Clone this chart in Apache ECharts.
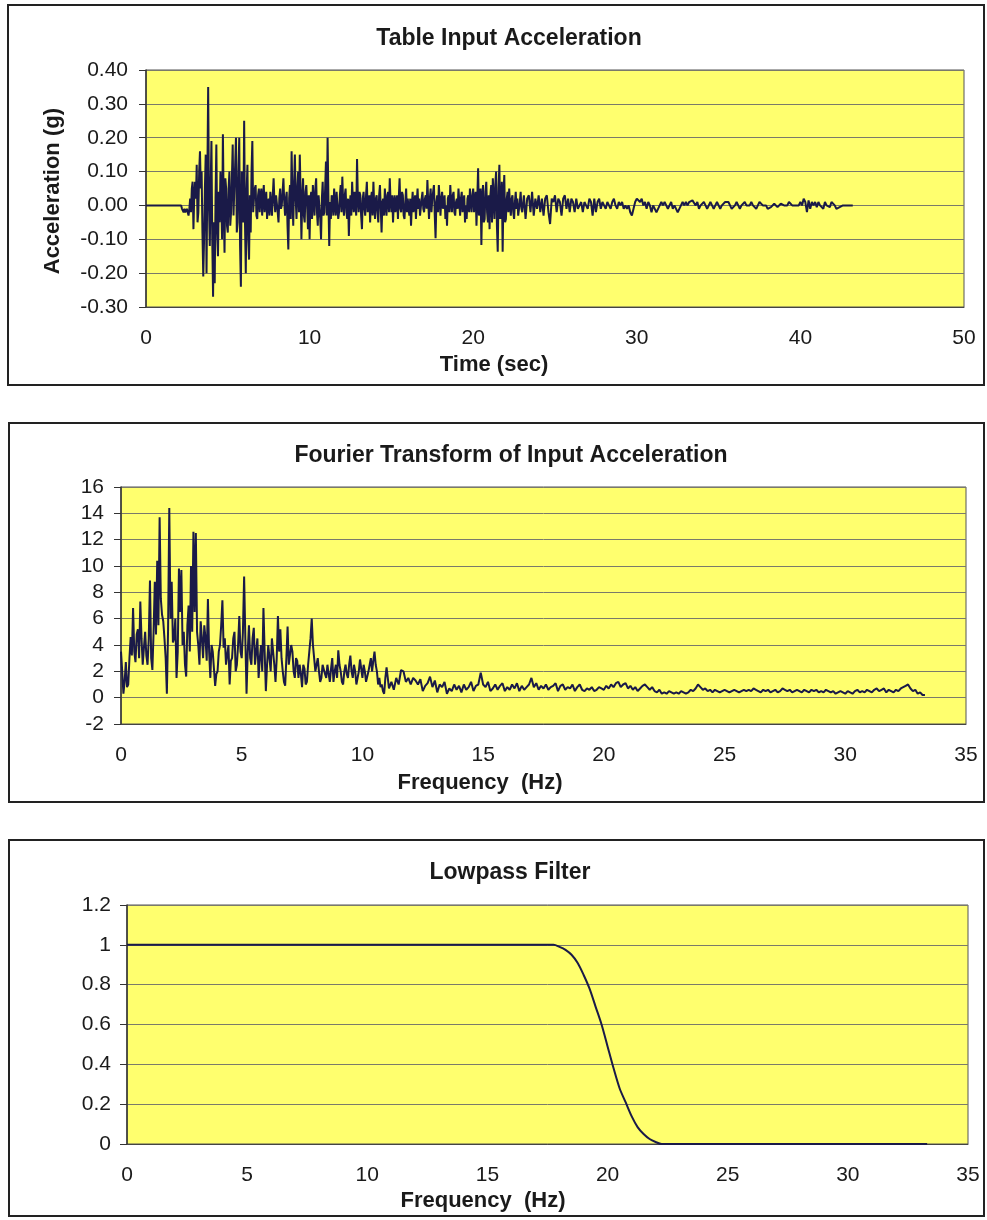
<!DOCTYPE html>
<html>
<head>
<meta charset="utf-8">
<script src="https://cdn.jsdelivr.net/npm/echarts@6/dist/echarts.min.js"></script>
<style>
html,body{margin:0;padding:0;background:#fff;}
#chart{width:987px;height:1220px;}
</style>
</head>
<body>
<div id="chart"></div>
<script>
// ---------- Data ----------
const accelTitle = 'Table Input Acceleration';
// flat lead-in: (t, value)
const accelLeadTime = [0];
const accelLeadValues = [0];
// strong-motion part: samples every 0.05 s from 2.0 s
const accelDenseStart = 2.0;
const accelDenseStep = 0.05;
const accelDense = [
  0,0,0,0,-0.01,-0.015,-0.02,-0.01,-0.02,-0.015,-0.01,-0.02,-0.03,-0.01,0.02,-0.02,0.05,0.07,-0.07,0.03,
  0.07,0.02,0.12,-0.05,-0.02,0.10,0.16,0.05,0.10,-0.08,-0.21,-0.10,0.05,0.15,-0.20,0.08,0.35,0.00,-0.12,0.05,
  0.19,-0.10,-0.27,-0.05,-0.23,0.02,0.18,-0.08,-0.15,0.04,-0.05,0.10,0.02,-0.10,0.21,0.00,-0.14,0.08,0.05,-0.06,
  -0.08,0.05,0.10,-0.06,-0.02,0.08,0.18,-0.03,0.05,0.12,0.20,-0.08,-0.05,0.10,0.20,-0.12,-0.24,0.10,0.06,-0.05,
  0.25,-0.05,-0.20,0.04,0.12,-0.10,-0.16,0.03,-0.08,0.10,0.19,-0.02,0.02,0.05,0.06,-0.03,-0.04,0.03,0.05,-0.02,
  0.03,0.05,-0.03,0.02,0.06,-0.02,0.01,0.04,-0.04,0.01,0.02,-0.03,0.04,0.01,-0.03,0.03,0.08,0.01,-0.02,0.03,
  0.03,-0.02,-0.05,0.02,0.05,-0.01,0.00,0.04,0.08,0.01,-0.03,0.02,0.04,-0.06,-0.13,0.02,0.06,-0.04,0.16,0.03,
  -0.06,0.06,0.15,0.02,-0.04,0.05,0.10,-0.02,0.15,0.04,-0.10,0.02,0.08,-0.03,-0.05,0.04,0.06,0.00,-0.07,0.03,
  -0.10,0.02,0.04,-0.04,0.06,0.01,-0.03,0.05,0.08,-0.02,-0.06,0.03,0.03,-0.04,-0.10,0.02,0.07,-0.03,-0.02,0.05,
  0.13,-0.03,0.20,0.02,-0.12,0.01,-0.04,0.03,0.02,-0.03,0.05,0.00,-0.03,0.04,0.04,-0.04,-0.02,0.03,0.06,-0.02,
  0.085,0.01,-0.03,0.03,0.05,-0.02,-0.04,0.02,-0.09,0.00,0.03,-0.03,0.07,0.01,-0.02,0.04,0.04,-0.03,0.137,0.02,
  -0.02,0.04,0.03,-0.03,-0.07,0.02,0.04,-0.01,-0.03,0.03,0.07,-0.02,0.00,0.03,-0.05,0.02,0.04,-0.03,0.07,0.00,
  -0.04,0.02,0.03,-0.02,-0.05,0.03,0.06,-0.01,-0.08,0.01,0.02,-0.03,0.05,0.00,-0.03,0.03,0.04,-0.02,0.08,0.01,
  -0.02,0.03,-0.05,0.01,0.03,-0.02,0.01,0.03,-0.04,0.02,0.08,-0.01,-0.02,0.04,0.03,-0.03,-0.04,0.01,0.05,-0.02,
  0.02,-0.01,-0.03,0.02,-0.06,0.00,0.04,-0.02,0.01,0.03,-0.04,0.01,0.05,-0.01,0.02,-0.03,-0.03,0.02,0.04,-0.01,
  -0.02,0.02,0.03,-0.01,0.075,0.01,-0.04,0.02,0.05,-0.02,0.02,0.04,0.06,-0.03,-0.097,0.01,0.03,-0.02,0.06,0.02,
  -0.03,0.02,0.04,-0.01,0.01,0.03,-0.04,0.00,-0.06,0.02,0.03,-0.02,0.06,0.01,-0.02,0.03,0.04,-0.02,-0.03,0.01,
  0.02,-0.01,0.05,0.01,-0.03,0.02,0.04,-0.02,0.01,0.03,-0.05,0.00,-0.04,0.02,0.03,-0.02,0.05,0.01,-0.02,0.03,
  0.05,-0.02,0.02,0.04,-0.06,0.02,0.11,-0.03,0.03,0.05,-0.117,0.02,0.06,-0.05,-0.04,0.04,0.07,-0.02,-0.05,0.03,
  -0.07,0.03,0.06,-0.05,0.08,0.02,-0.04,0.06,0.10,-0.06,-0.137,0.05,0.12,-0.04,-0.02,0.07,-0.137,0.03,0.09,-0.05,
  -0.04,0.02,0.04,-0.02,0.05,0.00,-0.03,0.02,0.03,-0.02,-0.04,0.01,0.04,-0.01,0.02,-0.03,-0.03,0.01,0.04,-0.01
];
// decaying tail: samples every 0.1 s from 23.0 s
const accelTailStart = 23.0;
const accelTailStep = 0.1;
const accelTail = [
  -0.02,0.03,-0.04,0.02,0.03,-0.02,0.04,-0.03,0.02,-0.01,
  0.03,-0.02,0.02,-0.03,0.02,0.03,-0.02,-0.055,0.02,0.01,
  0.03,-0.02,0.02,0.01,-0.03,0.02,0.03,-0.01,0.02,-0.02,
  0.02,0.01,-0.02,0.02,-0.01,0.00,0.01,-0.02,0.01,0.00,
  -0.01,0.02,0.01,-0.03,0.02,-0.02,0.01,0.02,-0.01,0.01,
  0.00,-0.01,0.01,0.00,-0.01,0.01,0.02,0.00,-0.01,0.01,
  0.00,0.01,-0.01,0.00,-0.01,0.00,-0.02,-0.03,-0.01,0.01,
  0.02,0.02,0.01,0.02,0.00,0.01,-0.01,0.01,0.00,-0.02,
  0.00,-0.01,-0.02,-0.01,0.00,0.01,0.00,0.01,0.00,-0.01,
  0.00,0.01,-0.01,0.00,-0.01,-0.02,-0.01,0.00,0.01,0.00,
  0.01,0.00,0.01,0.01,0.015,0.01,0.00,0.01,-0.01,0.00,
  0.00,0.01,0.00,-0.01,0.00,0.01,0.00,-0.01,0.00,0.01,
  0.00,-0.01,0.00,0.00,0.01,0.015,0.01,0.00,-0.01,-0.01,
  0.00,0.01,0.00,-0.01,0.00,0.005,0.01,0.00,-0.005,0.00,
  0.01,0.00,-0.005,-0.01,0.00,0.01,0.005,0.00,-0.005,0.00,
  -0.01,-0.015,-0.005,0.00,0.005,0.00,-0.005,0.00,0.005,0.01,
  0.00,0.005,0.00,0.01,0.01,0.00,-0.005,0.00,0.005,0.00,
  0.01,0.00,0.02,0.01,-0.02,0.015,-0.01,0.01,0.00,0.01,
  -0.005,0.01,0.00,0.005,-0.01,0.01,0.00,0.005,-0.005,0.01,
  0.01,0.00,-0.01,-0.015,-0.005,0.00,0.00,0.00,0.00,0.00,
  0,0,0
];
const accelXTicks = {min: 0, max: 50, interval: 10};
const accelYTicks = {min: -0.3, max: 0.4, interval: 0.1};

const fftTitle = 'Fourier Transform of Input Acceleration';
// 0 - 10.95 Hz every 0.05 Hz
const fftLowStart = 0;
const fftLowStep = 0.05;
const fftLow = [
  3.5,2.0,0.3,1.2,2.7,0.8,1.0,3.0,4.6,3.2,
  6.8,3.5,2.7,4.8,5.2,3.0,7.3,4.5,2.5,3.8,
  5.0,3.2,2.5,4.5,8.9,3.0,2.1,5.0,8.8,4.8,
  10.4,5.5,13.7,7.5,6.3,5.8,4.5,3.0,0.3,5.2,
  14.4,6.0,8.8,4.2,4.5,6.0,1.5,3.5,9.8,6.5,
  9.7,4.0,5.0,2.5,1.6,5.5,7.0,3.5,10.0,5.0,
  12.6,6.5,12.5,5.0,4.0,2.5,5.8,4.5,3.0,5.5,
  4.5,2.8,7.5,3.5,1.5,4.0,3.5,2.2,0.9,1.8,
  2.0,3.5,4.0,5.5,7.4,3.8,4.5,2.5,2.5,4.0,
  1.0,2.8,3.0,4.5,5.0,2.0,2.5,4.0,6.2,3.5,
  3.0,5.0,9.2,4.5,0.3,3.5,5.5,3.0,2.5,4.5,
  5.3,2.5,3.5,4.5,1.5,3.0,4.0,2.0,6.8,3.5,
  0.5,2.5,4.0,3.0,2.0,4.5,3.5,2.5,1.2,3.0,
  6.2,3.5,5.2,3.0,2.0,1.2,0.9,3.0,5.4,2.5,
  2.5,4.0,3.5,2.0,1.5,3.0,2.8,1.5,2.5,1.8,
  0.8,2.5,2.2,1.0,1.2,2.5,3.5,4.5,6.0,4.0,
  3.0,2.0,2.5,3.0,2.0,1.2,1.5,2.5,2.6,1.8,
  1.5,2.5,1.8,1.2,2.2,3.0,1.2,2.0,2.5,1.5,
  3.6,2.5,2.0,1.2,1.0,2.0,2.5,1.8,1.5,2.5,
  3.2,2.0,1.5,2.5,2.0,1.0,1.0,2.0,2.9,2.2,
  1.5,2.5,2.0,1.2,1.2,2.0,2.5,3.0,2.0,2.8,
  3.5,2.5,2.0,1.0,1.5,0.8,1.0,0.5,0.3,1.5
];
// 11.0 - 33.3 Hz every 0.1 Hz
const fftHighStart = 11.0;
const fftHighStep = 0.1;
const fftHigh = [
  2.3,0.7,1.2,0.6,1.5,1.0,2.1,2.0,1.2,1.5,
  1.0,1.5,1.3,1.0,1.4,0.5,0.9,1.1,1.6,0.8,
  1.3,0.4,1.0,0.8,1.2,0.3,0.7,0.5,1.0,0.6,
  0.9,0.4,1.0,0.6,0.8,1.2,0.5,0.9,1.0,1.9,
  1.0,0.8,1.2,0.5,0.7,1.0,0.6,0.9,1.1,0.5,
  0.8,0.6,1.0,0.7,1.1,0.5,0.9,0.6,0.8,1.0,
  1.5,0.8,1.1,0.6,0.9,0.7,1.0,0.6,0.8,0.9,
  1.1,0.5,0.9,1.0,0.6,0.8,0.7,1.0,0.5,0.8,
  1.0,0.6,0.5,0.7,0.6,0.8,0.5,0.6,0.8,0.7,
  0.6,0.9,0.7,1.0,0.8,1.1,1.2,0.8,1.0,1.1,
  0.7,0.9,0.6,0.8,0.5,0.7,0.9,1.0,0.8,0.6,
  0.8,0.5,0.4,0.6,0.3,0.4,0.3,0.5,0.4,0.3,
  0.4,0.3,0.5,0.4,0.3,0.4,0.6,0.5,0.7,1.0,
  0.8,0.6,0.7,0.5,0.6,0.4,0.6,0.5,0.4,0.5,
  0.6,0.5,0.4,0.5,0.6,0.5,0.4,0.5,0.6,0.5,
  0.6,0.5,0.7,0.6,0.5,0.4,0.6,0.5,0.6,0.4,
  0.5,0.6,0.4,0.5,0.7,0.6,0.5,0.6,0.4,0.5,
  0.6,0.5,0.4,0.6,0.5,0.4,0.6,0.5,0.6,0.4,
  0.5,0.4,0.6,0.5,0.4,0.5,0.3,0.4,0.5,0.4,
  0.3,0.5,0.4,0.3,0.5,0.6,0.4,0.5,0.4,0.6,
  0.5,0.4,0.6,0.7,0.5,0.6,0.7,0.4,0.6,0.5,
  0.4,0.6,0.5,0.7,0.8,0.9,1.0,0.7,0.5,0.6,
  0.3,0.4,0.2,0.2
];
const fftXTicks = {min: 0, max: 35, interval: 5};
const fftYTicks = {min: -2, max: 16, interval: 2};

const filterTitle = 'Lowpass Filter';
const filterFreq = [0, 17.75, 18, 18.25, 18.5, 18.75, 19, 19.25, 19.5, 19.75, 20, 20.25, 20.5, 20.75, 21, 21.25, 21.5, 21.75, 22, 22.25, 33.3];
const filterGain = [1, 1, 0.99, 0.975, 0.95, 0.91, 0.85, 0.78, 0.69, 0.60, 0.49, 0.38, 0.28, 0.21, 0.14, 0.085, 0.05, 0.025, 0.01, 0, 0];
const filterXTicks = {min: 0, max: 35, interval: 5};
const filterYTicks = {min: 0, max: 1.2, interval: 0.2};

const timeAxisName = 'Time (sec)';
const freqAxisName = 'Frequency  (Hz)';
const accelAxisName = 'Acceleration (g)';

// ---------- Chart ----------
const FONT = '"Liberation Sans", Arial, Helvetica, sans-serif';
const TXT = '#1a1a1a';
const LINE = '#1a1a48';
const YELLOW = '#FFFF6E';

function sampled(start, step, values) {
  return values.map((v, i) => [+(start + i * step).toFixed(3), v]);
}
const accelData = accelLeadTime.map((t, i) => [t, accelLeadValues[i]])
  .concat(sampled(accelDenseStart, accelDenseStep, accelDense))
  .concat(sampled(accelTailStart, accelTailStep, accelTail));
const fftData = sampled(fftLowStart, fftLowStep, fftLow)
  .concat(sampled(fftHighStart, fftHighStep, fftHigh));
const filterData = filterFreq.map((f, i) => [f, filterGain[i]]);

function xAxis(gi, ticks) {
  return {
    type: 'value', gridIndex: gi, min: ticks.min, max: ticks.max, interval: ticks.interval,
    axisLine: {show: true, onZero: false, lineStyle: {color: '#444', width: 1}},
    axisTick: {show: false},
    splitLine: {show: false},
    axisLabel: {color: TXT, fontFamily: FONT, fontSize: 21, margin: 21}
  };
}
function yAxis(gi, ticks, fmt, margin) {
  return {
    type: 'value', gridIndex: gi, min: ticks.min, max: ticks.max, interval: ticks.interval,
    axisLine: {show: true, lineStyle: {color: '#333', width: 1.5}},
    axisTick: {show: true, inside: false, length: 7, lineStyle: {color: '#333'}},
    splitLine: {show: true, lineStyle: {color: '#7a7a6a', width: 1}},
    axisLabel: {color: TXT, fontFamily: FONT, fontSize: 21, margin: margin, formatter: fmt}
  };
}
function titleAt(text, cx, cy, size) {
  return {
    text: text, left: cx, top: cy - size * 0.62, textAlign: 'center',
    textStyle: {fontFamily: FONT, fontWeight: 'bold', fontSize: size, color: TXT}
  };
}

const option = {
  animation: false,
  backgroundColor: '#ffffff',
  title: [
    titleAt(accelTitle, 504, 36, 23),
    titleAt(fftTitle, 506, 453, 23),
    titleAt(filterTitle, 505, 870, 23),
    titleAt(timeAxisName, 489, 363, 22),
    titleAt(freqAxisName, 475, 781, 22),
    titleAt(freqAxisName, 478, 1199, 22)
  ],
  graphic: [
    {type: 'rect', shape: {x: 8, y: 5, width: 976, height: 380}, style: {fill: 'none', stroke: '#222', lineWidth: 2}},
    {type: 'rect', shape: {x: 9, y: 423, width: 975, height: 379}, style: {fill: 'none', stroke: '#222', lineWidth: 2}},
    {type: 'rect', shape: {x: 9, y: 840, width: 975, height: 376}, style: {fill: 'none', stroke: '#222', lineWidth: 2}},
    {type: 'text', left: 42, top: 108, rotation: Math.PI / 2,
      style: {text: accelAxisName, fontFamily: FONT, fontWeight: 'bold', fontSize: 22, fill: TXT}}
  ],
  grid: [
    {left: 146, top: 70, width: 818, height: 237, show: true, backgroundColor: YELLOW, borderColor: '#555', borderWidth: 1},
    {left: 121, top: 487, width: 845, height: 237, show: true, backgroundColor: YELLOW, borderColor: '#555', borderWidth: 1},
    {left: 127, top: 905, width: 841, height: 239, show: true, backgroundColor: YELLOW, borderColor: '#555', borderWidth: 1}
  ],
  xAxis: [xAxis(0, accelXTicks), xAxis(1, fftXTicks), xAxis(2, filterXTicks)],
  yAxis: [
    yAxis(0, accelYTicks, v => v.toFixed(2), 18),
    yAxis(1, fftYTicks, v => String(Math.round(v)), 17),
    yAxis(2, filterYTicks, v => String(parseFloat(v.toFixed(1))), 16)
  ],
  series: [
    {type: 'line', xAxisIndex: 0, yAxisIndex: 0, data: accelData, showSymbol: false, lineStyle: {color: LINE, width: 2}},
    {type: 'line', xAxisIndex: 1, yAxisIndex: 1, data: fftData, showSymbol: false, lineStyle: {color: LINE, width: 2}},
    {type: 'line', xAxisIndex: 2, yAxisIndex: 2, data: filterData, showSymbol: false, smooth: 0.3, lineStyle: {color: LINE, width: 2}}
  ]
};

const chart = echarts.init(document.getElementById('chart'), null, {renderer: 'canvas'});
chart.setOption(option);
</script>
</body>
</html>
